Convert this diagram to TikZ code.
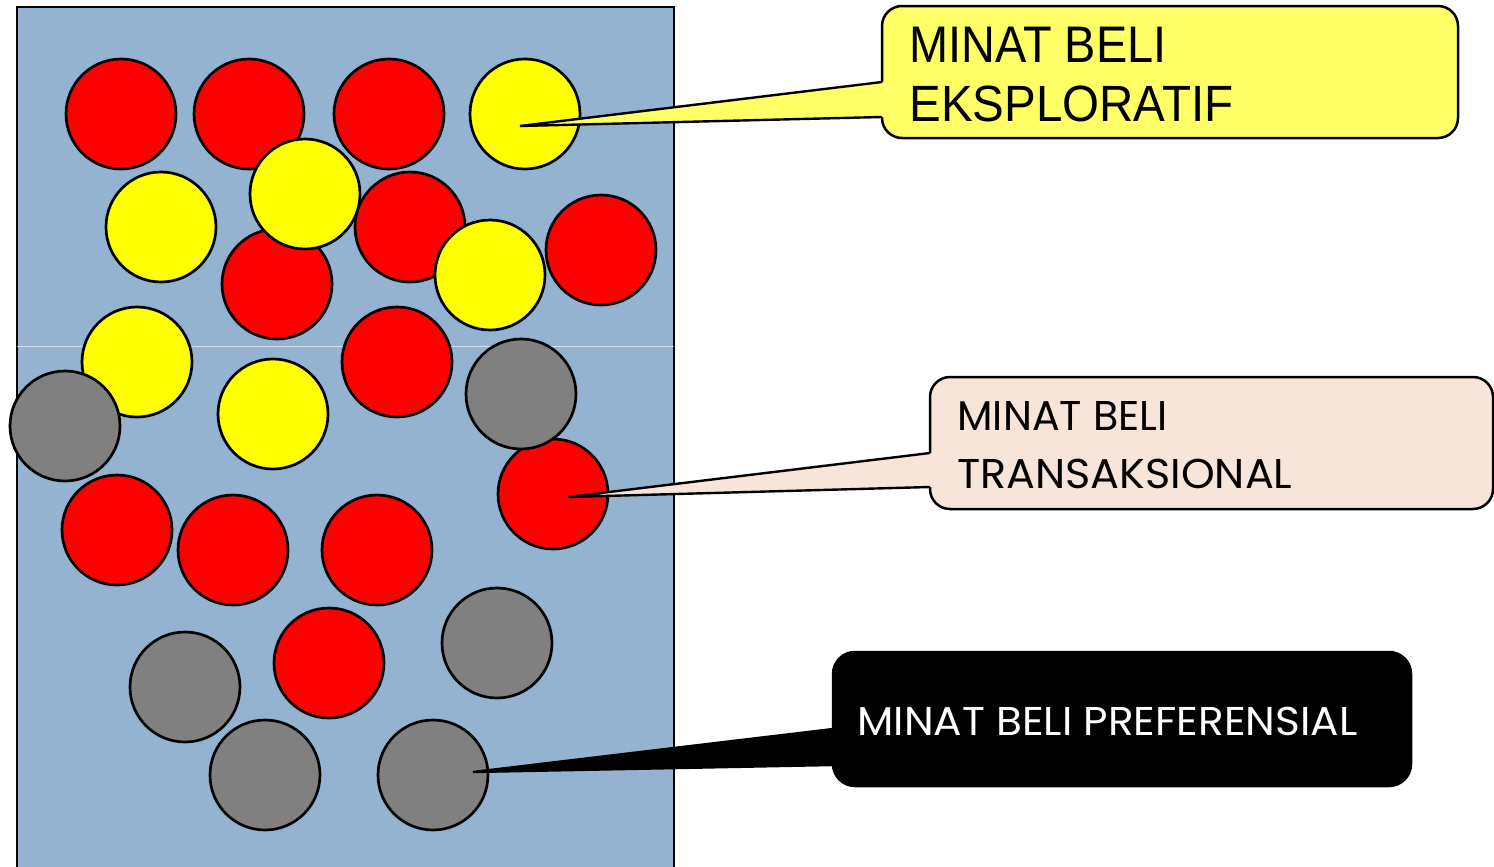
\documentclass[tikz,border=0pt]{standalone}
\usepackage{fontspec}
\setmainfont{Liberation Sans}
\newfontfamily\geofont{Poppins}
\usetikzlibrary{calc}
\definecolor{bgblue}{HTML}{93B3D1}
\definecolor{ballgray}{HTML}{808080}
\definecolor{ballred}{HTML}{FF0000}
\definecolor{ballyellow}{HTML}{FFFF00}
\definecolor{calloutyellow}{HTML}{FFFF66}
\definecolor{calloutpink}{HTML}{F8E5DA}
\begin{document}
\begin{tikzpicture}[x=0.5pt,y=-0.5pt,
  ball/.style={circle,draw=black,line width=1.35pt,minimum size=55pt,inner sep=0pt},
  rb/.style={ball,fill=ballred},
  yb/.style={ball,fill=ballyellow},
  gb/.style={ball,fill=ballgray},
  callout/.style={draw=black,line width=1.25pt,rounded corners=10pt,inner sep=0pt},
  pointer/.style={line width=1.2pt,line join=miter},
  lbl/.style={anchor=base west,inner sep=0pt}]
\useasboundingbox (0,0) rectangle (1494,867);
\fill[white] (0,0) rectangle (1494,867);
% panel
\draw[fill=bgblue,line width=1.4pt] (17,7) rectangle (674,890);
\draw[white,line width=0.4pt,opacity=0.6] (17,346) -- (674,346);
% balls
\node[rb] (r1) at (121,114) {};
\node[rb] (r2) at (249,114) {};
\node[rb] (r3) at (389,114) {};
\node[yb] (y1) at (525,114) {};
\node[yb] (y2) at (161,227) {};
\node[rb] (r4) at (277,284) {};
\node[rb] (r5) at (410,227) {};
\node[yb] (y3) at (305,194) {};
\node[yb] (y4) at (490,275) {};
\node[rb] (r6) at (601,250) {};
\node[yb] (y5) at (137,362) {};
\node[gb] (g1) at (65,426) {};
\node[yb] (y6) at (273,414) {};
\node[rb] (r7) at (397,362) {};
\node[rb] (r8) at (553,494) {};
\node[gb] (g2) at (521,394) {};
\node[rb] (r9) at (117,530) {};
\node[rb] (r10) at (233,550) {};
\node[rb] (r11) at (377,550) {};
\node[gb] (g3) at (185,687) {};
\node[rb] (r12) at (329,663) {};
\node[gb] (g4) at (497,643) {};
\node[gb] (g5) at (265,775) {};
\node[gb] (g6) at (433,775) {};
% callout 1
\node[callout,fill=calloutyellow,minimum width=288pt,minimum height=66pt] (box1) at (1170,72) {};
\coordinate (p1a) at (882,82);
\coordinate (p1b) at (882,117);
\coordinate (t1) at ($(y1.center)+(-5,12)$);
\fill[calloutyellow] (t1) -- ($(p1a)+(3,0)$) -- ($(p1b)+(3,0)$) -- cycle;
\draw[pointer] (p1a) -- (t1) -- (p1b);
\node[lbl] (l1a) at (909,62.7) {\resizebox{128.5pt}{17.7pt}{MINAT BELI}};
\node[lbl] (l1b) at (909,121) {\resizebox{162pt}{17.8pt}{EKSPLORATIF}};
% callout 2
\node[callout,fill=calloutpink,minimum width=281.5pt,minimum height=66pt] (box2) at (1211.5,443) {};
\coordinate (p2a) at (930,453);
\coordinate (p2b) at (930,487);
\coordinate (t2) at ($(r8.center)+(15,3)$);
\fill[calloutpink] (t2) -- ($(p2a)+(3,0)$) -- ($(p2b)+(3,0)$) -- cycle;
\draw[pointer] (p2a) -- (t2) -- (p2b);
\node[lbl] (l2a) at (957,430.7) {\resizebox{105pt}{14.5pt}{\geofont MINAT BELI}};
\node[lbl] (l2b) at (957,488) {\resizebox{167.5pt}{14.7pt}{\geofont TRANSAKSIONAL}};
% callout 3
\node[callout,fill=black,minimum width=289pt,minimum height=67pt,rounded corners=11pt] (box3) at (1122,719) {};
\coordinate (p3a) at (833,729);
\coordinate (p3b) at (833,765);
\coordinate (t3) at ($(g6.center)+(40,-3)$);
\fill[black] (t3) -- ($(p3a)+(3,0)$) -- ($(p3b)+(3,0)$) -- cycle;
\draw[pointer] (p3a) -- (t3) -- (p3b);
\node[lbl,text=white] (l3) at (857,735) {\resizebox{250pt}{14.2pt}{\geofont MINAT BELI PREFERENSIAL}};
\end{tikzpicture}
\end{document}
